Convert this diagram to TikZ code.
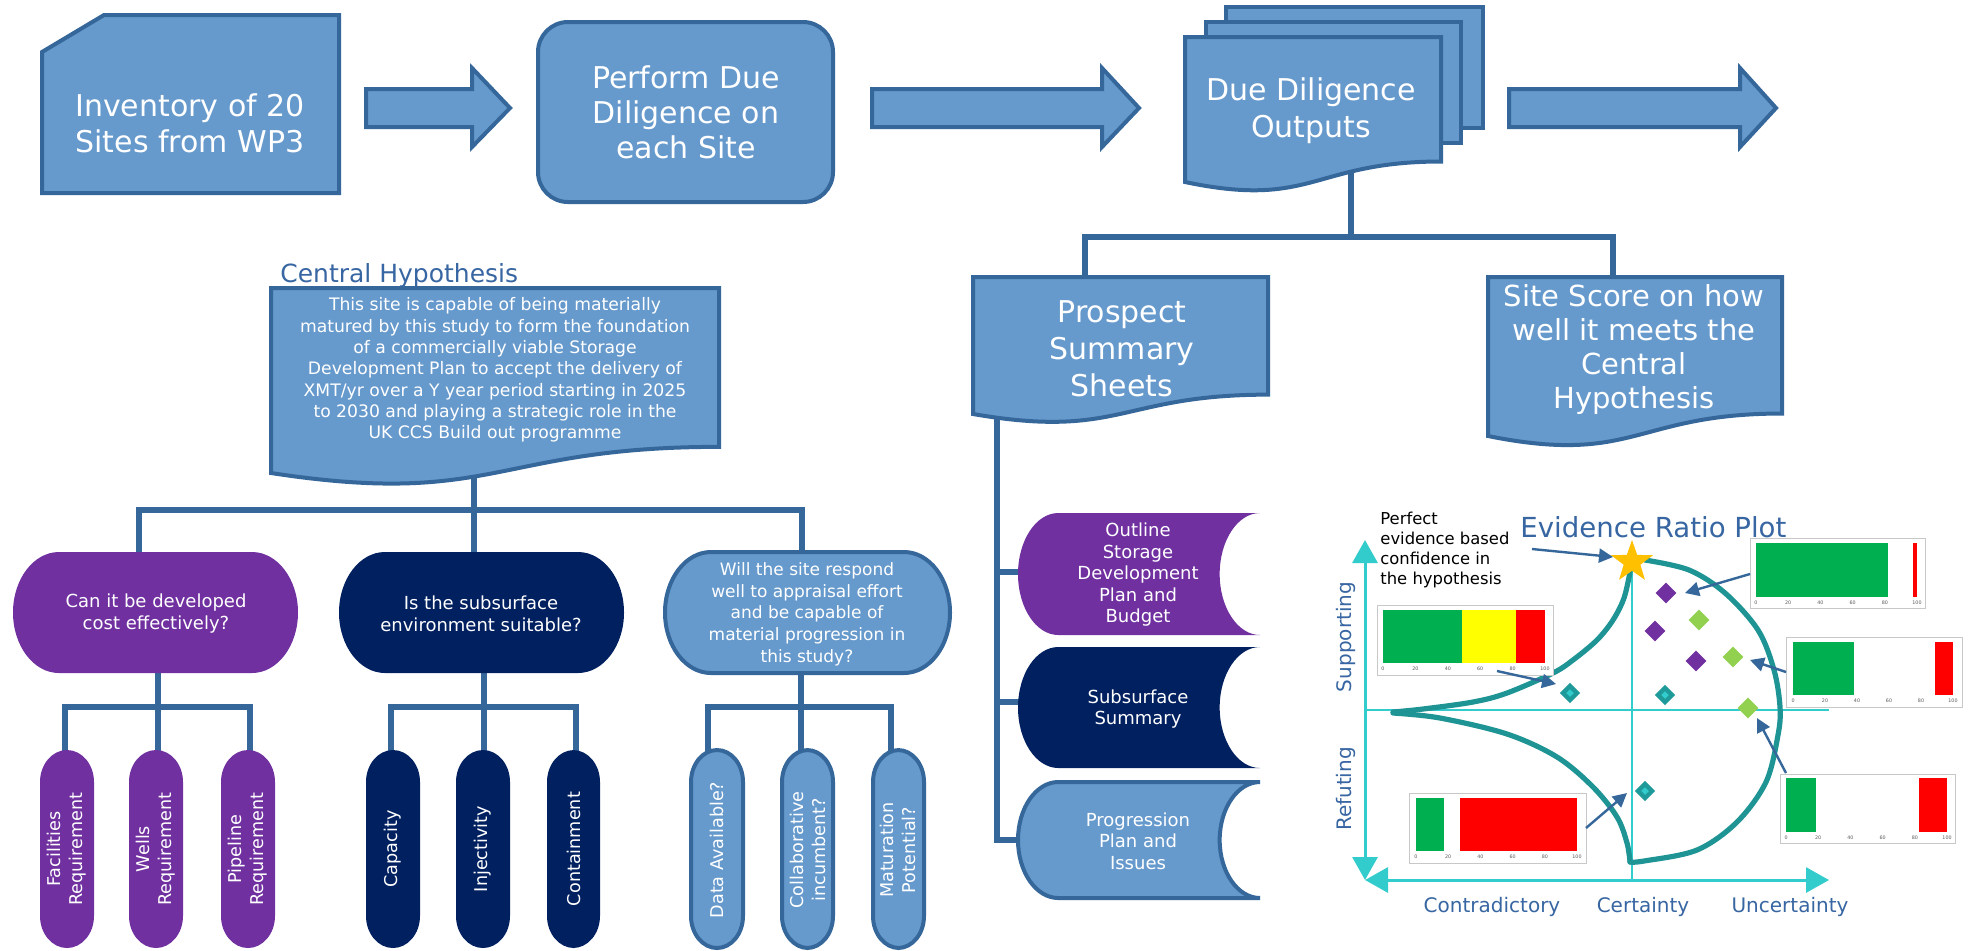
\documentclass[tikz,border=0pt]{standalone}
\usepackage{fontspec}
\setmainfont{DejaVu Sans}
\usetikzlibrary{shapes.geometric,arrows.meta}
\definecolor{lb}{HTML}{6699CC}
\definecolor{db}{HTML}{35679A}
\definecolor{pu}{HTML}{7030A0}
\definecolor{nv}{HTML}{002060}
\definecolor{tb}{HTML}{3766A2}
\definecolor{ax}{HTML}{33CCCC}
\definecolor{cv}{HTML}{1F9494}
\definecolor{gr}{HTML}{00B050}
\definecolor{ye}{HTML}{FFFF00}
\definecolor{rd}{HTML}{FF0000}
\definecolor{st}{HTML}{FFC000}
\definecolor{lg}{HTML}{92D050}
\definecolor{td}{HTML}{1F9A9A}
\definecolor{fr}{HTML}{C8C8C8}
% terminator: [style]{L}{T}{R}{B}{rx}{ry}
\newcommand\termshape[7][]{%
  \path[#1] ({#2+#6},#3) -- ({#4-#6},#3)
    .. controls ({#4-0.4477*#6},#3) and (#4,{#3+0.4477*#7}) .. (#4,{#3+#7})
    -- (#4,{#5-#7})
    .. controls (#4,{#5-0.4477*#7}) and ({#4-0.4477*#6},#5) .. ({#4-#6},#5)
    -- ({#2+#6},#5)
    .. controls ({#2+0.4477*#6},#5) and (#2,{#5-0.4477*#7}) .. (#2,{#5-#7})
    -- (#2,{#3+#7})
    .. controls (#2,{#3+0.4477*#7}) and ({#2+0.4477*#6},#3) .. ({#2+#6},#3) -- cycle;}
% document: [style]{L}{T}{R}{Bleft}
\newcommand\docshape[5][]{%
  \pgfmathsetmacro\dcH{(#5-#3)/0.934}%
  \pgfmathsetmacro\dcR{#3+0.802*\dcH}%
  \pgfmathsetmacro\dcC{#3+1.1075*\dcH}%
  \pgfmathsetmacro\dcM{(#2+#4)/2}%
  \path[#1] (#2,#3) -- (#4,#3) -- (#4,\dcR) .. controls (\dcM,\dcR) and (\dcM,\dcC) .. (#2,#5) -- cycle;}
% stored data: [style]{L}{T}{R}{B}
\newcommand\storeshape[5][]{%
  \pgfmathsetmacro\stR{(#4-#2)/6}%
  \pgfmathsetmacro\stM{(#3+#5)/2}%
  \pgfmathsetmacro\stY{(#5-#3)/2}%
  \path[#1] ({#2+\stR},#3) -- (#4,#3)
   .. controls ({#4-0.5523*\stR},#3) and ({#4-\stR},{\stM-0.5523*\stY}) .. ({#4-\stR},\stM)
   .. controls ({#4-\stR},{\stM+0.5523*\stY}) and ({#4-0.5523*\stR},#5) .. (#4,#5)
   -- ({#2+\stR},#5)
   .. controls ({#2+0.4477*\stR},#5) and (#2,{\stM+0.5523*\stY}) .. (#2,\stM)
   .. controls (#2,{\stM-0.5523*\stY}) and ({#2+0.4477*\stR},#3) .. ({#2+\stR},#3) -- cycle;}
% block arrow: {L}{head base}{tip}
\newcommand\blockarrow[3]{%
  \path[shp] (#1,89) -- (#2,89) -- (#2,68) -- (#3,108) -- (#2,147) -- (#2,127) -- (#1,127) -- cycle;}
% ticks: {name}{x0}{x1}{y}
\newcommand\ticklabels[4]{%
  \foreach \v in {0,20,40,60,80,100} {\node[tick] (#1-\v) at ({#2+(#3-#2)*\v/100},#4) {\v};}}
\begin{document}
\begin{tikzpicture}[x=0.5pt,y=-0.5pt,
  conn/.style={draw=db, line width=2.75pt},
  shp/.style={fill=lb, draw=db, line width=2pt},
  wt/.style={text=white, align=center, inner sep=0pt},
  big/.style={wt, font=\fontsize{15}{18}\selectfont},
  hyp/.style={wt, font=\fontsize{8.6}{10.65}\selectfont},
  pill/.style={wt, font=\fontsize{9}{11}\selectfont},
  rot/.style={wt, rotate=90, font=\fontsize{8.8}{11}\selectfont},
  axlab/.style={text=tb, inner sep=0pt, font=\fontsize{10}{12}\selectfont},
  tick/.style={inner sep=0pt, text=black!65, font=\fontsize{2.4}{3}\selectfont},
  axisln/.style={draw=ax, line width=1.5pt},
  bighead/.style={{Triangle[length=11.5pt,width=12.5pt]}-{Triangle[length=11.5pt,width=12.5pt]}},
  evarr/.style={draw=db, line width=1.2pt, -{Triangle[length=7pt,width=7pt]}},
  dia/.style={diamond, aspect=1, inner sep=0pt, minimum size=10.5pt},
  frame/.style={draw=fr, fill=white, line width=0.5pt}]
\useasboundingbox (0,0) rectangle (1969,950);
\fill[white] (0,0) rectangle (1969,950);

% ---------- connectors ----------
\coordinate (ddB) at (1351,170);
\coordinate (ddJ) at (1351,237);
\coordinate (psT) at (1085,285);
\coordinate (ssT) at (1613,285);
\draw[conn] (ddB) -- (ddJ);
\draw[conn] (psT) |- (ddJ) -| (ssT);

\coordinate (psB) at (997,400);
\coordinate (o1) at (1030,572);
\coordinate (o2) at (1030,702);
\coordinate (o3) at (1030,840);
\draw[conn] (psB) |- (o3);
\draw[conn] (o1) -| (psB);
\draw[conn] (o2) -| (psB);

\coordinate (hyB) at (474,460);
\coordinate (hyJ) at (474,510);
\coordinate (qaT) at (139,560);
\coordinate (qbT) at (474,560);
\coordinate (qcT) at (802,560);
\draw[conn] (hyB) -- (qbT);
\draw[conn] (qaT) |- (hyJ) -| (qcT);

\coordinate (qaB) at (158,665); \coordinate (aJ) at (158,707);
\coordinate (a1) at (65,760); \coordinate (a2) at (158,760); \coordinate (a3) at (250,760);
\draw[conn] (qaB) -- (a2); \draw[conn] (a1) |- (aJ) -| (a3);
\coordinate (qbB) at (484,665); \coordinate (bJ) at (484,707);
\coordinate (b1) at (391,760); \coordinate (b2) at (484,760); \coordinate (b3) at (576,760);
\draw[conn] (qbB) -- (b2); \draw[conn] (b1) |- (bJ) -| (b3);
\coordinate (qcB) at (801,665); \coordinate (cJ) at (801,707);
\coordinate (c1) at (708,760); \coordinate (c2) at (801,760); \coordinate (c3) at (891,760);
\draw[conn] (qcB) -- (c2); \draw[conn] (c1) |- (cJ) -| (c3);

% ---------- top row ----------
\path[shp] (42,52) -- (104,15) -- (339,15) -- (339,193) -- (42,193) -- cycle;
\node[big] (inv) at (190,123) {Inventory of 20\\Sites from WP3};
\blockarrow{366}{472}{510}
\path[shp, rounded corners=15pt] (538,22) rectangle (833,202);
\node[big, font=\fontsize{15}{17.5}\selectfont] (perf) at (686,112) {Perform Due\\Diligence on\\each Site};
\blockarrow{872}{1102}{1139}
\path[shp] (1226,7) rectangle (1483,128);
\path[shp] (1206,22) rectangle (1461,143);
\docshape[shp]{1185}{37}{1441}{182}
\node[big, font=\fontsize{15}{18.5}\selectfont] (ddo) at (1311,111) {Due Diligence\\Outputs};
\blockarrow{1509}{1740}{1776}

% ---------- outputs ----------
\docshape[shp]{973}{277}{1268}{414}
\node[big, font=\fontsize{15}{18.5}\selectfont] (pss) at (1122,349) {Prospect\\Summary\\Sheets};
\docshape[shp]{1488}{277}{1782}{436}
\node[big, font=\fontsize{14.5}{17}\selectfont] (ssc) at (1634,349) {Site Score on how\\well it meets the\\Central\\Hypothesis};

\storeshape[fill=pu]{1018}{513}{1260}{635}
\node[pill, font=\fontsize{9}{10.75}\selectfont] (osd) at (1138,575) {Outline\\Storage\\Development\\Plan and\\Budget};
\storeshape[fill=nv]{1018}{647}{1260}{768}
\node[pill, font=\fontsize{9}{10.75}\selectfont] (sss) at (1138,709) {Subsurface\\Summary};
\storeshape[shp]{1018}{782}{1260}{898}
\node[pill, font=\fontsize{9}{10.75}\selectfont] (ppi) at (1138,841) {Progression\\Plan and\\Issues};

% ---------- central hypothesis ----------
\node[anchor=base west, text=tb, inner sep=0pt, font=\fontsize{12.5}{15}\selectfont] (cht) at (280,282) {Central Hypothesis};
\docshape[shp]{271}{288}{719}{473}
\node[hyp] (hyt) at (495,370) {This site is capable of being materially\\matured by this study to form the foundation\\of a commercially viable Storage\\Development Plan to accept the delivery of\\XMT/yr over a Y year period starting in 2025\\to 2030 and playing a strategic role in the\\UK CCS Build out programme};

\termshape[fill=pu]{13}{552}{298}{673}{46}{60.5}
\node[pill] (qa) at (156,614) {Can it be developed\\cost effectively?};
\termshape[fill=nv]{339}{552}{624}{673}{46}{60.5}
\node[pill] (qb) at (481,614) {Is the subsurface\\environment suitable?};
\termshape[shp]{665}{552}{950}{673}{46}{60.5}
\node[pill, font=\fontsize{8.5}{10.85}\selectfont] (qc) at (807,614) {Will the site respond\\well to appraisal effort\\and be capable of\\material progression in\\this study?};

\termshape[fill=pu]{40}{750}{94}{948}{27}{32}
\node[rot] (fa) at (67,849) {Facilities\\Requirement};
\termshape[fill=pu]{129}{750}{183}{948}{27}{32}
\node[rot] (we) at (156,849) {Wells\\Requirement};
\termshape[fill=pu]{221}{750}{275}{948}{27}{32}
\node[rot] (pi) at (248,849) {Pipeline\\Requirement};
\termshape[fill=nv]{366}{750}{420}{948}{27}{32}
\node[rot] (ca) at (393,849) {Capacity};
\termshape[fill=nv]{456}{750}{510}{948}{27}{32}
\node[rot] (in) at (483,849) {Injectivity};
\termshape[fill=nv]{547}{750}{600}{948}{27}{32}
\node[rot] (co) at (574,849) {Containment};
\termshape[shp]{691}{750}{743}{948}{26}{32}
\node[rot] (da) at (717,850) {Data Available?};
\termshape[shp]{782}{750}{833}{948}{26}{32}
\node[rot] (cl) at (808,850) {Collaborative\\incumbent?};
\termshape[shp]{873}{750}{924}{948}{26}{32}
\node[rot] (ma) at (898,850) {Maturation\\Potential?};

% ---------- evidence ratio plot ----------
\node[anchor=base west, text=tb, inner sep=0pt, font=\fontsize{13.8}{16}\selectfont] (ert) at (1520,537) {Evidence Ratio Plot};
\coordinate (axT) at (1365,540);
\coordinate (axO) at (1365,880);
\coordinate (axR) at (1829,880);
\coordinate (chL) at (1365,710);
\coordinate (chR) at (1829,710);
\coordinate (cvT) at (1632,565);
\coordinate (cvB) at (1632,880);
\draw[axisln, line width=1.3pt] (chL) -- (chR);
\draw[axisln, line width=1.3pt] (cvT) -- (cvB);
\draw[axisln, bighead, ax] (axT) -- (axO);
\draw[axisln, bighead, ax] (axO) -- (axR);

\draw[cv, line width=2.6pt, line cap=round, line join=round] plot[smooth, tension=0.55] coordinates {(1630,572) (1624,598) (1613,620) (1597,640) (1573,660) (1553,673) (1507,693) (1473,702) (1423,709) (1393,712)};
\draw[cv, line width=2.6pt, line cap=round, line join=round] plot[smooth, tension=0.55] coordinates {(1393,713) (1440,718) (1507,734) (1557,757) (1593,787) (1617,817) (1627,843) (1630,862)};
\draw[cv, line width=2.6pt, line cap=round, line join=round] plot[smooth, tension=0.55] coordinates {(1630,862) (1644,861) (1697,850) (1737,822) (1766,782) (1778,735) (1780,707) (1774,670) (1758,630) (1725,593) (1689,570) (1645,560)};

\node[star, star points=5, star point ratio=2.5, fill=st, inner sep=0pt, minimum size=22pt] (star) at (1632,562) {};

\node[dia, fill=pu] (d1) at (1666,593) {};
\node[dia, fill=pu] (d2) at (1655,631) {};
\node[dia, fill=pu] (d3) at (1696,661) {};
\node[dia, fill=lg] (d4) at (1699,620) {};
\node[dia, fill=lg] (d5) at (1733,657) {};
\node[dia, fill=lg] (d6) at (1748,708) {};
\node[dia, fill=ax, draw=td, line width=2.2pt, minimum size=8pt] (d7) at (1570,693) {};
\node[dia, fill=ax, draw=td, line width=2.2pt, minimum size=8pt] (d8) at (1665,695) {};
\node[dia, fill=ax, draw=td, line width=2.2pt, minimum size=8pt] (d9) at (1645,791) {};

\node[anchor=north west, align=left, inner sep=0pt, text=black, font=\fontsize{8.2}{10}\selectfont] (pft) at (1380,512) {Perfect\\evidence based\\confidence in\\the hypothesis};

% bar charts
\path[frame] (1377,605) rectangle (1553,675);
\fill[gr] (1383,610) rectangle (1462,663);
\fill[ye] (1462,610) rectangle (1516,663);
\fill[rd] (1516,610) rectangle (1545,663);
\ticklabels{ta}{1383}{1545}{669}

\path[frame] (1750,538) rectangle (1925,608);
\fill[gr] (1756,543) rectangle (1888,597);
\fill[rd] (1913,543) rectangle (1917,597);
\ticklabels{tb}{1756}{1917}{603}

\path[frame] (1786,637) rectangle (1962,707);
\fill[gr] (1793,642) rectangle (1854,695);
\fill[rd] (1935,642) rectangle (1953,695);
\ticklabels{tc}{1793}{1953}{701}

\path[frame] (1780,774) rectangle (1955,843);
\fill[gr] (1786,778) rectangle (1816,832);
\fill[rd] (1919,778) rectangle (1947,832);
\ticklabels{td}{1786}{1947}{838}

\path[frame] (1409,793) rectangle (1586,863);
\fill[gr] (1416,798) rectangle (1444,851);
\fill[rd] (1460,798) rectangle (1577,851);
\ticklabels{te}{1416}{1577}{857}

% pointer arrows
\coordinate (p0a) at (1532,549); \coordinate (p0b) at (1613,557);
\coordinate (p1a) at (1497,671); \coordinate (p1b) at (1556,684);
\coordinate (p2a) at (1750,574); \coordinate (p2b) at (1685,593);
\coordinate (p3a) at (1786,672); \coordinate (p3b) at (1750,660);
\coordinate (p4a) at (1786,773); \coordinate (p4b) at (1757,718);
\coordinate (p5a) at (1586,828); \coordinate (p5b) at (1627,793);
\draw[evarr] (p0a) -- (p0b);
\draw[evarr] (p1a) -- (p1b);
\draw[evarr] (p2a) -- (p2b);
\draw[evarr] (p3a) -- (p3b);
\draw[evarr] (p4a) -- (p4b);
\draw[evarr] (p5a) -- (p5b);

\node[axlab, rotate=90] (sup) at (1346,637) {Supporting};
\node[axlab, rotate=90] (ref) at (1346,789) {Refuting};
\node[axlab, anchor=base] (con) at (1492,912) {Contradictory};
\node[axlab, anchor=base] (cer) at (1643,912) {Certainty};
\node[axlab, anchor=base] (unc) at (1790,912) {Uncertainty};
\end{tikzpicture}
\end{document}
